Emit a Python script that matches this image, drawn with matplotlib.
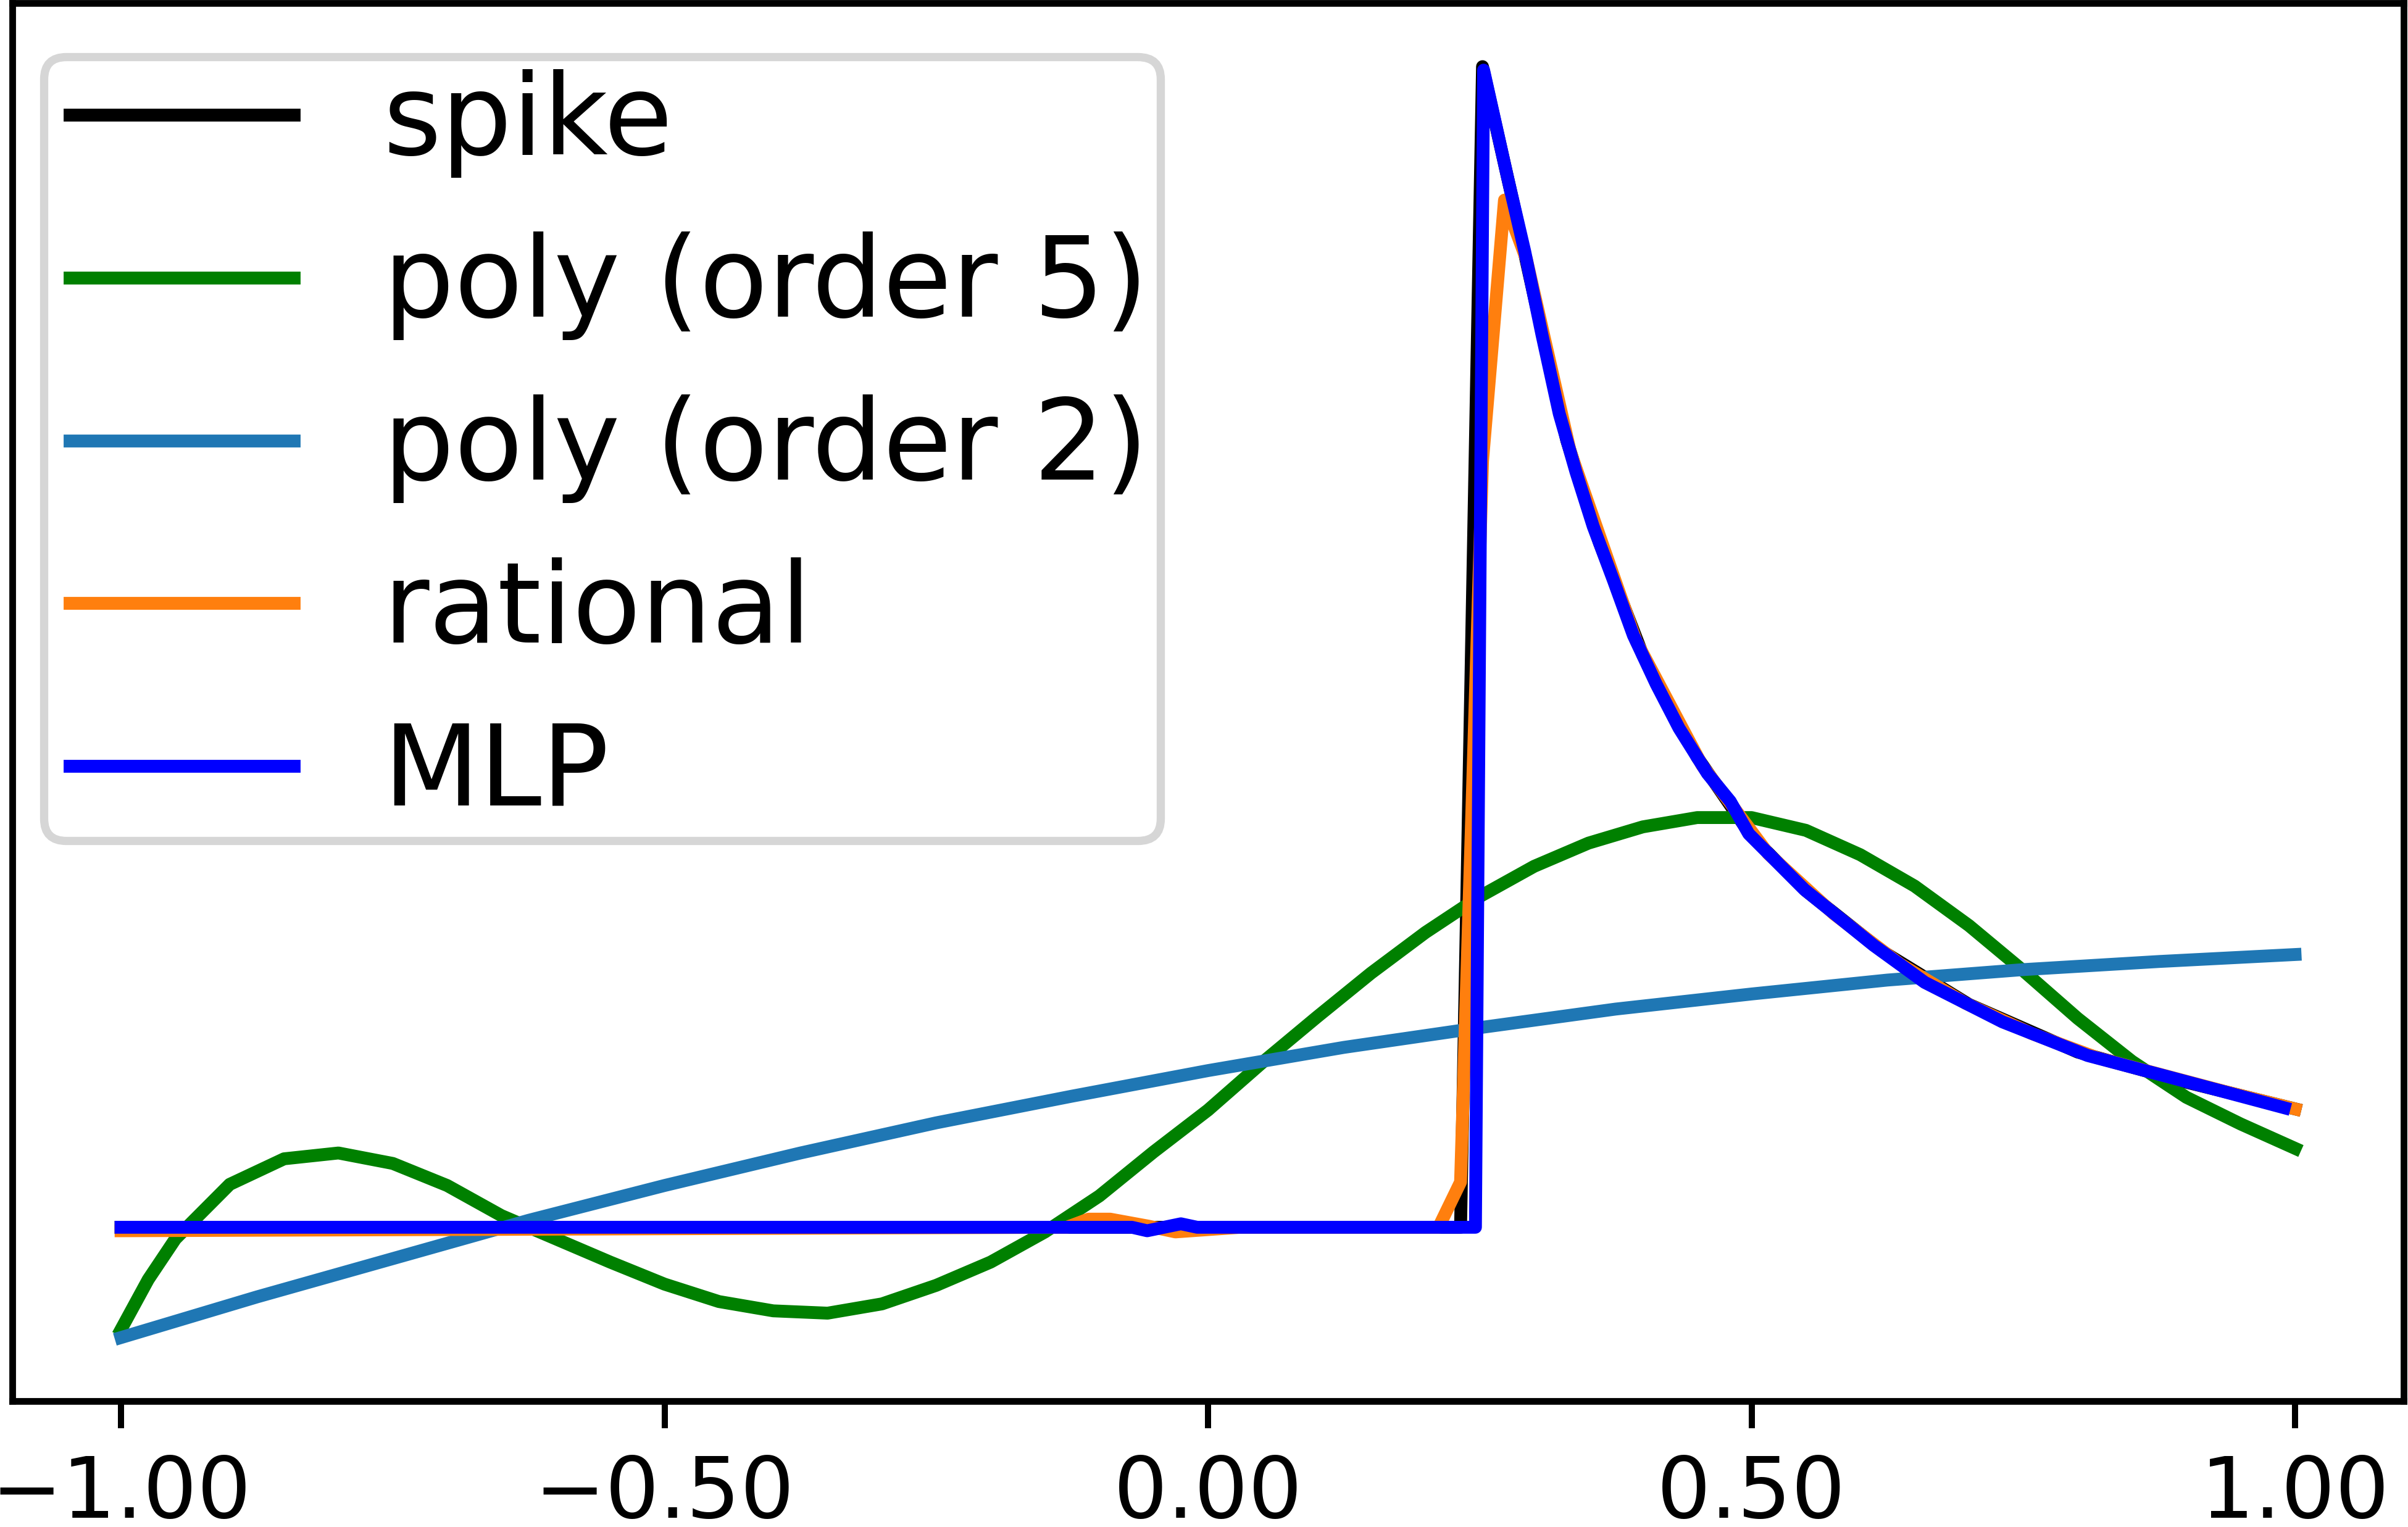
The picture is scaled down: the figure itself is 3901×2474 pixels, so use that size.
import numpy as np
import matplotlib
matplotlib.use("Agg")
import matplotlib.pyplot as plt

# ------------------------------------------------------------
# values
# ------------------------------------------------------------
spike_x = [-1.0, 0.2323, 0.2525, 0.28, 0.30, 0.33, 0.36, 0.40, 0.45,
           0.50, 0.55, 0.62, 0.70, 0.80, 0.90, 1.0]
spike_y = [0.0, 0.0, 1.0, 0.886, 0.802, 0.678, 0.590, 0.493, 0.405,
           0.337, 0.290, 0.238, 0.192, 0.151, 0.125, 0.102]

poly5_x = [-1.0, -0.975, -0.95, -0.90, -0.85, -0.80, -0.75, -0.70, -0.65,
           -0.60, -0.55, -0.50, -0.45, -0.40, -0.35, -0.30, -0.25, -0.20,
           -0.15, -0.10, -0.05, 0.00, 0.05, 0.10, 0.15, 0.20, 0.25, 0.30,
           0.35, 0.40, 0.45, 0.50, 0.55, 0.60, 0.65, 0.70, 0.75, 0.80,
           0.85, 0.90, 0.95, 1.00]
poly5_y = [-0.088, -0.045, -0.010, 0.037, 0.059, 0.064, 0.055, 0.036, 0.010,
           -0.010, -0.030, -0.049, -0.064, -0.072, -0.074, -0.066, -0.050, -0.030,
           -0.004, 0.027, 0.065, 0.101, 0.142, 0.181, 0.219, 0.254, 0.285, 0.311,
           0.331, 0.345, 0.353, 0.353, 0.342, 0.321, 0.294, 0.260, 0.221, 0.180,
           0.143, 0.112, 0.089, 0.068]

poly2_x = [-1.0, -0.875, -0.75, -0.625, -0.5, -0.375, -0.25, -0.125, 0.0,
           0.125, 0.25, 0.375, 0.5, 0.625, 0.75, 0.875, 1.0]
poly2_y = [-0.095, -0.060, -0.027, 0.006, 0.036, 0.064, 0.090, 0.113, 0.135,
           0.155, 0.172, 0.188, 0.201, 0.213, 0.222, 0.229, 0.235]

rational_x = [-1.0, -0.13, -0.11, -0.09, -0.055, -0.03, 0.03, 0.2121, 0.2323,
              0.2525, 0.2727, 0.2929, 0.3333, 0.3939, 0.4545, 0.5152, 0.5758,
              0.6364, 0.6970, 0.7576, 0.8182, 0.8788, 0.9394, 1.0]
rational_y = [-0.003, 0.0, 0.007, 0.007, 0.001, -0.004, 0.0, 0.0, 0.039,
              0.66, 0.885, 0.834, 0.668, 0.505, 0.398, 0.322, 0.270,
              0.227, 0.193, 0.167, 0.146, 0.131, 0.116, 0.102]

mlp_x = [-1.0, -0.07, -0.056, -0.025, -0.01, 0.246, 0.2535, 0.2754, 0.2913,
         0.3072, 0.3231, 0.3384, 0.3543, 0.3731, 0.3913, 0.4123, 0.4333,
         0.4594, 0.4804, 0.4974, 0.5486, 0.6122, 0.6593, 0.7308, 0.8092,
         0.8779, 0.99]
mlp_y = [0.0, 0.0, -0.003, 0.003, 0.0, 0.0, 0.997, 0.905, 0.841,
         0.769, 0.701, 0.651, 0.604, 0.557, 0.510, 0.468, 0.430,
         0.391, 0.367, 0.339, 0.291, 0.243, 0.211, 0.177, 0.148,
         0.131, 0.103]

x_ticks = [-1.0, -0.5, 0.0, 0.5, 1.0]
x_tick_labels = ["\u22121.00", "\u22120.50", "0.00", "0.50", "1.00"]

# ------------------------------------------------------------
# style
# ------------------------------------------------------------
LEGEND_FS = 43.5
HANDLE_SHIFT = 5.3  # points of empty room left of every legend line

plt.rcParams.update({
    "font.family": "DejaVu Sans",
    "lines.linewidth": 5,
    "axes.linewidth": 2.6,
    "xtick.major.size": 10.5,
    "xtick.major.width": 2.4,
    "xtick.major.pad": 10,
    "xtick.labelsize": 33,
    "legend.fontsize": LEGEND_FS,
})

fig = plt.figure(figsize=(3901 / 300, 2474 / 300), dpi=300)
ax = fig.add_axes([0.00513, 0.08246, 0.9931, 0.91552])

ax.plot(spike_x, spike_y, color="black", label="spike")
ax.plot(poly5_x, poly5_y, color="green", label="poly (order 5)")
ax.plot(poly2_x, poly2_y, color="#1f77b4", label="poly (order 2)")
ax.plot(rational_x, rational_y, color="#ff7f0e", label="rational")
ax.plot(mlp_x, mlp_y, color="blue", label="MLP")

ax.set_xticks(x_ticks)
ax.set_xticklabels(x_tick_labels)
ax.set_yticks([])

leg = ax.legend(loc="upper left", bbox_to_anchor=(0.0132, 0.9616),
                borderaxespad=0.0, borderpad=0.11, labelspacing=0.483,
                handlelength=2.0 + HANDLE_SHIFT / LEGEND_FS)
leg.get_frame().set_linewidth(3.2)
# keep the drawn handle at the usual length, leaving a gap on its left
for line in leg.get_lines():
    xd = np.asarray(line.get_xdata(), dtype=float)
    line.set_xdata(np.linspace(xd[0] + HANDLE_SHIFT, xd[-1], len(xd)))

fig.savefig("out.png", dpi=300)
